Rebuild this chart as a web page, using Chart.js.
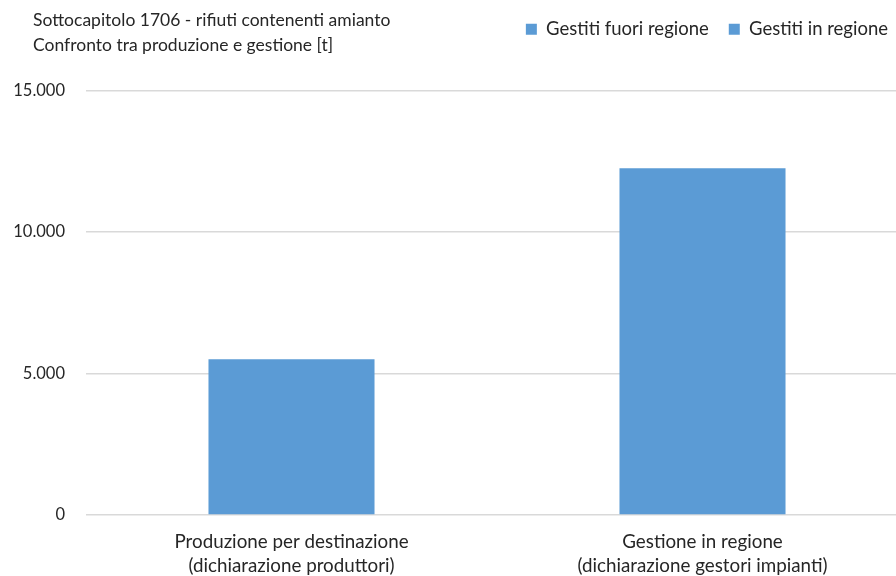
<!DOCTYPE html>
<html><head><meta charset="utf-8">
<script src="https://cdn.jsdelivr.net/npm/chart.js@4/dist/chart.umd.min.js"></script>
<style>html,body{margin:0;padding:0;overflow:hidden;background:#fff}#wrap{width:908px;height:576px;position:relative}</style>
</head><body><div id="wrap"><canvas id="c"></canvas></div>
<script>
const categories = [["Produzione per destinazione","(dichiarazione produttori)"],["Gestione in regione","(dichiarazione gestori impianti)"]];
const seriesNames = ["Gestiti fuori regione","Gestiti in regione"];
const fuoriRegione = [0, 0];
const inRegione = [5500, 12250];
const yTicks = [0, 5000, 10000, 15000];
const titleLines = ["Sottocapitolo 1706 - rifiuti contenenti amianto","Confronto tra produzione e gestione [t]"];
const FONT = "Lato";
const TXT = "#262626";
function fmt(v){return String(v).replace(/\B(?=(\d{3})+(?!\d))/g,".");}
const titlePlugin = {id:"t", afterDraw(ch){const ctx=ch.ctx;ctx.save();ctx.fillStyle=TXT;ctx.font="17.5px "+FONT;ctx.textBaseline="middle";ctx.textAlign="left";ctx.fillText(titleLines[0],33,20);ctx.fillText(titleLines[1],33,45);ctx.restore();}};
const legendSpace = {id:"ls", beforeInit(ch){const lg=ch.legend;const f=lg.fit;lg.fit=function(){f.call(this);this.height+=42;};}};
new Chart(document.getElementById("c"),{
 type:"bar",
 data:{labels:categories,datasets:[
  {label:seriesNames[0],data:fuoriRegione,backgroundColor:"#5B9BD5",barPercentage:0.404,categoryPercentage:1},
  {label:seriesNames[1],data:inRegione,backgroundColor:"#5B9BD5",barPercentage:0.404,categoryPercentage:1}]},
 options:{responsive:true,maintainAspectRatio:false,animation:false,
  layout:{padding:{left:12,right:0,top:0,bottom:0}},
  plugins:{tooltip:{enabled:false},
   legend:{position:"top",align:"end",labels:{boxWidth:11,boxHeight:11,padding:20,color:TXT,font:{family:FONT,size:18.5}}}},
  scales:{
   x:{stacked:true,grid:{display:false},border:{display:false},ticks:{color:TXT,padding:7,font:{family:FONT,size:18.8,lineHeight:1.27},maxRotation:0},afterFit(s){s.height=61;}},
   y:{stacked:true,min:0,max:15000,afterBuildTicks(s){s.ticks=yTicks.map(v=>({value:v}));},
      grid:{color:"#d9d9d9",lineWidth:1.5,drawTicks:false},border:{display:false},
      ticks:{color:TXT,padding:21,font:{family:FONT,size:16.5},callback:v=>fmt(v)},afterFit(s){s.width=74;}}
  }},
 plugins:[titlePlugin, legendSpace]
});
</script></body></html>
